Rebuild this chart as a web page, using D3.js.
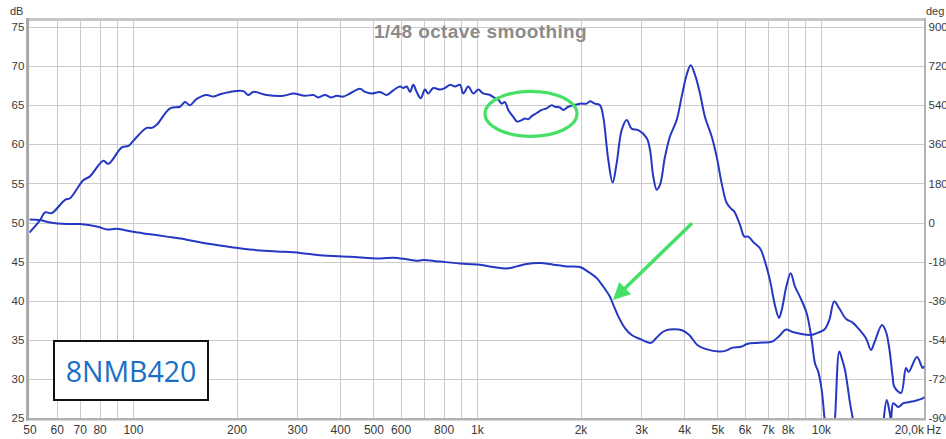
<!DOCTYPE html>
<html>
<head>
<meta charset="utf-8">
<script src="https://cdn.jsdelivr.net/npm/d3@7"></script>
<style>
  html, body { margin: 0; padding: 0; background: #fff; overflow: hidden; }
  svg { display: block; font-family: "Liberation Sans", Arial, sans-serif; }
</style>
</head>
<body>
<svg id="chart" width="946" height="439"></svg>
<script>
// ---- Frequency response (SPL, dB) ----
const magFreq = [50, 53.7, 55.5, 58.0, 63.5, 65.6, 71.7, 75.0, 82.0, 84.8, 92.8, 97.0, 100,
  109.6, 113.4, 117.2, 128.2, 137.0, 141.7, 146.5, 153.2, 163.8, 171.2, 179.1, 191.5, 209.3,
  216.4, 223.8, 244.7, 273.6, 292.6, 316.3, 334.4, 345.8, 361.7, 376, 391.2, 408.8, 427.6,
  457.2, 472.7, 494.4, 522.6, 546.5, 571.3, 597.5, 610.8, 624.9, 638.8, 653.1, 668.1, 686.3,
  706.3, 722.0, 746.6, 780.8, 807.4, 834.9, 863.3, 892.7, 912.6, 943.7, 975.8, 1009, 1043,
  1091, 1128, 1154, 1180, 1206, 1233, 1275, 1310, 1349, 1379, 1410, 1442, 1492, 1542, 1595,
  1649, 1686, 1743, 1782, 1843, 1906, 1993, 2084, 2131, 2203, 2278, 2329, 2409, 2480, 2548,
  2634, 2724, 2817, 2944, 3115, 3184, 3255, 3330, 3405, 3520, 3640, 3807, 3937, 4071, 4181,
  4303, 4450, 4601, 4813, 4977, 5146, 5321, 5502, 5599, 5817, 5987, 6149, 6358, 6650, 6876,
  7110, 7352, 7551, 7689, 7950, 8166, 8404, 8690, 9089, 9399, 9608, 9823, 10050, 10270,
  10550, 10840, 10990, 11310, 11520, 11750, 12150, 12420, 12810, 14850, 15150, 15530, 15800,
  15980, 16230, 16780, 17360, 18400, 19770, 20000];
const magDb = [48.7, 50.3, 51.3, 51.2, 52.9, 53.1, 55.4, 55.9, 57.9, 57.5, 59.6, 59.8, 60.4,
  62.1, 62.1, 62.5, 64.6, 64.8, 65.4, 65.0, 65.8, 66.3, 66.1, 66.4, 66.7, 66.8,
  66.3, 66.7, 66.3, 66.2, 66.5, 66.2, 66.3, 66.0, 66.3, 66.0, 66.2, 66.1, 66.5,
  67.1, 66.7, 66.5, 66.7, 66.3, 66.9, 67.4, 67.2, 67.4, 66.7, 67.6, 66.7, 65.9,
  67.0, 66.5, 67.2, 67.0, 67.2, 67.6, 67.4, 67.6, 66.5, 67.4, 66.5, 67.0, 66.5,
  66.3, 65.9, 65.7, 65.2, 65.4, 64.4, 63.5, 62.9, 63.1, 63.3, 63.2, 63.6, 64.0, 64.4, 64.6,
  65.0, 64.8, 64.7, 64.4, 64.8, 65.0, 65.2, 65.2, 65.5, 65.2, 65.0, 63.5, 58.0, 55.1, 57.6,
  61.8, 63.1, 62.0, 61.8, 60.8, 59.3, 55.9, 54.2, 54.8, 58.4, 61.0, 63.1, 66.1, 68.9, 70.1,
  68.9, 66.5, 63.5, 61.0, 58.4, 55.0, 52.5, 51.7, 51.4, 49.7, 48.2, 48.2, 47.5, 46.7, 45.0,
  42.6, 39.4, 37.8, 38.8, 42.0, 43.5, 41.8, 40.5, 38.4, 35.0, 32.0, 30.9, 28.6, 24.5,
  21.0, 22.0, 25.0, 33.5, 32.5, 31.1, 26.9, 24.5, 20.0, 20.0, 24.0, 27.3, 26.0,
  24.8, 26.9, 26.4, 26.9, 27.1, 27.5, 27.7];

// ---- Phase (degrees, right axis) ----
const phaseFreq = [50, 53.7, 57.4, 64.2, 70.2, 78.5, 83.9, 89.7, 100, 112.1, 125.3, 143.3,
  163.8, 195.7, 223.8, 261.8, 305.9, 349.8, 427.6, 522.6, 571.3, 624.9, 668.1, 698.2, 780.8,
  873.2, 933.6, 1020, 1116, 1220, 1305, 1395, 1525, 1667, 1823, 1993, 2107, 2229, 2329, 2436,
  2490, 2575, 2693, 2817, 2978, 3206, 3315, 3467, 3623, 3963, 4142, 4382, 4632, 5064, 5296,
  5539, 5855, 6124, 6618, 7240, 7566, 7914, 8277, 8650, 9354, 9784, 10230, 10570, 10930,
  11310, 11820, 12370, 12930, 13520, 13980, 14290, 15050, 15460, 15800, 16160, 16340, 17090,
  17670, 17990, 19020, 19770, 20000];
const phaseDeg = [14, 11, 0, -7, -7, -18, -32, -29, -43, -54, -65, -79,
  -97, -115, -126, -133, -140, -151, -158, -166, -162, -169, -176, -173, -180,
  -187, -191, -194, -205, -212, -202, -191, -187, -194, -202, -205, -227, -256, -295, -342,
  -378, -432, -486, -518, -536, -554, -533, -504, -493, -497, -518, -565, -583, -594, -590,
  -576, -572, -558, -554, -547, -522, -493, -504, -511, -518, -508, -493, -450, -364,
  -396, -443, -461, -493, -533, -587, -554, -472, -504, -580, -709, -756, -785,
  -670, -688, -619, -670, -660];

// ---- Axes ----
const dbTicks = [25, 30, 35, 40, 45, 50, 55, 60, 65, 70, 75];
const degTicks = [-900, -720, -540, -360, -180, 0, 180, 360, 540, 720, 900];
const gridFreqs = [60, 70, 80, 90, 100, 200, 300, 400, 500, 600, 700, 800, 900,
  1000, 2000, 3000, 4000, 5000, 6000, 7000, 8000, 9000, 10000];
const labelFreqs = [50, 60, 70, 80, 100, 200, 300, 400, 500, 600, 800,
  1000, 2000, 3000, 4000, 5000, 6000, 7000, 8000, 10000, 20000];
const freqLabels = ["50", "60", "70", "80", "100", "200", "300", "400", "500", "600", "800",
  "1k", "2k", "3k", "4k", "5k", "6k", "7k", "8k", "10k", "20,0k"];

const titleText = "1/48 octave smoothing";
const modelName = "8NMB420";

// Callouts, positioned in data units: ringed dip and arrow onto the phase drop
const ringCenter = { f: 1436, db: 63.9 };
const arrowFrom = { f: 4218, db: 49.9 };
const arrowTo = { f: 2485, db: 40.1 };

// ---- Drawing ----
const svg = d3.select("#chart");
const plotL = 29.4, plotR = 924.5, plotT = 19.5, plotB = 418;

const x = d3.scaleLog().domain([50, 20000]).range([plotL, plotR]);
const y = d3.scaleLinear().domain([25, 75]).range([plotB, 27]);
const yDeg = d3.scaleLinear().domain([-900, 900]).range([plotB, 27]);

const gridColor = "#cbcbcb";
const frameColor = "#b2b2b2";
const curveColor = "#2538c2";
const labelColor = "#3a3a3a";
const green = "#46e066";

// grid
const grid = svg.append("g").attr("shape-rendering", "crispEdges");
grid.selectAll("line.v").data(gridFreqs).join("line")
  .attr("x1", d => Math.round(x(d)) + 0.5).attr("x2", d => Math.round(x(d)) + 0.5)
  .attr("y1", plotT).attr("y2", plotB)
  .attr("stroke", gridColor).attr("stroke-width", 1);
grid.selectAll("line.h").data(dbTicks.slice(1)).join("line")
  .attr("x1", plotL).attr("x2", plotR)
  .attr("y1", d => Math.round(y(d)) + 0.5).attr("y2", d => Math.round(y(d)) + 0.5)
  .attr("stroke", gridColor).attr("stroke-width", 1);

// frame
const frame = svg.append("g");
frame.append("line").attr("x1", 26).attr("x2", plotR + 1).attr("y1", plotT).attr("y2", plotT)
  .attr("stroke", "#c6c6c6").attr("stroke-width", 3);
frame.append("line").attr("x1", 26).attr("x2", plotR + 1).attr("y1", plotB + 1.2).attr("y2", plotB + 1.2)
  .attr("stroke", frameColor).attr("stroke-width", 2.5);
frame.append("line").attr("x1", 27.6).attr("x2", 27.6).attr("y1", plotT - 1.5).attr("y2", plotB + 2.5)
  .attr("stroke", "#a8a8a8").attr("stroke-width", 3);
frame.append("line").attr("x1", plotR + 0.5).attr("x2", plotR + 0.5).attr("y1", plotT - 1.5).attr("y2", plotB + 2.5)
  .attr("stroke", frameColor).attr("stroke-width", 2);

// curves
svg.append("clipPath").attr("id", "plotClip").append("rect")
  .attr("x", plotL).attr("y", plotT + 1).attr("width", plotR - plotL).attr("height", plotB - plotT - 1);

const curves = svg.append("g").attr("clip-path", "url(#plotClip)");
const magLine = d3.line()
  .x((d, i) => x(magFreq[i])).y(d => y(d))
  .curve(d3.curveCatmullRom.alpha(0.5));
const phaseLine = d3.line()
  .x((d, i) => x(phaseFreq[i])).y(d => yDeg(d))
  .curve(d3.curveCatmullRom.alpha(0.5));

curves.append("path").datum(phaseDeg).attr("d", phaseLine)
  .attr("fill", "none").attr("stroke", curveColor).attr("stroke-width", 2)
  .attr("stroke-linejoin", "round");
curves.append("path").datum(magDb).attr("d", magLine)
  .attr("fill", "none").attr("stroke", curveColor).attr("stroke-width", 2)
  .attr("stroke-linejoin", "round");

// left axis (dB)
const axisFont = 11.5;
const yAxis = svg.append("g").attr("transform", `translate(${plotL},0)`)
  .call(d3.axisLeft(y).tickValues(dbTicks).tickSize(0).tickPadding(5).tickFormat(d => String(d)));
yAxis.select(".domain").remove();
yAxis.selectAll("text").attr("fill", labelColor).style("font-size", axisFont + "px")
  .style("font-family", "'Liberation Sans', Arial, sans-serif");

// right axis (deg)
const rAxis = svg.append("g").attr("transform", `translate(${plotR},0)`)
  .call(d3.axisRight(yDeg).tickValues(degTicks).tickSize(0).tickPadding(4).tickFormat(d => String(d)));
rAxis.select(".domain").remove();
rAxis.selectAll("text").attr("fill", labelColor).style("font-size", axisFont + "px")
  .style("font-family", "'Liberation Sans', Arial, sans-serif");

// bottom axis (Hz)
const xAxis = svg.append("g").attr("transform", `translate(0,${plotB})`)
  .call(d3.axisBottom(x).tickValues(labelFreqs).tickSize(0).tickPadding(7)
    .tickFormat((d, i) => freqLabels[i]));
xAxis.select(".domain").remove();
xAxis.selectAll("text").attr("fill", labelColor).style("font-size", "12px")
  .style("font-family", "'Liberation Sans', Arial, sans-serif");
xAxis.selectAll(".tick").filter(d => d === 20000).select("text")
  .attr("text-anchor", "end").attr("x", -1);
svg.append("text").attr("x", plotR + 2).attr("y", 434)
  .attr("fill", labelColor).style("font-size", "12px").text("Hz");

// unit captions
svg.append("text").attr("x", 10).attr("y", 15).attr("fill", labelColor)
  .style("font-size", "11px").text("dB");
svg.append("text").attr("x", 926).attr("y", 15).attr("fill", labelColor)
  .style("font-size", "11px").text("deg");

// title
svg.append("text").attr("x", 480.5).attr("y", 37.5).attr("text-anchor", "middle")
  .attr("fill", "#8b8b8b").style("font-size", "19px").style("font-weight", "bold")
  .style("letter-spacing", "0.4px").text(titleText);

// model label
const tag = svg.append("g");
tag.append("rect").attr("x", 54).attr("y", 341).attr("width", 154).attr("height", 59)
  .attr("fill", "#fff").attr("stroke", "#111").attr("stroke-width", 2);
tag.append("text").attr("x", 131).attr("y", 382).attr("text-anchor", "middle")
  .attr("fill", "#1a6fc4").style("font-family", "'Open Sans', 'Noto Sans', sans-serif")
  .style("font-size", "28.5px").text(modelName);

// callouts
svg.append("ellipse")
  .attr("cx", x(ringCenter.f)).attr("cy", y(ringCenter.db))
  .attr("rx", 46).attr("ry", 22.5)
  .attr("fill", "none").attr("stroke", green).attr("stroke-width", 3.2);

const ax0 = x(arrowFrom.f), ay0 = y(arrowFrom.db);
const ax1 = x(arrowTo.f), ay1 = y(arrowTo.db);
const len = Math.hypot(ax1 - ax0, ay1 - ay0);
const ux = (ax1 - ax0) / len, uy = (ay1 - ay0) / len;
const headLen = 17, headHalf = 8.5;
const bx = ax1 - ux * headLen, by = ay1 - uy * headLen;
svg.append("line").attr("x1", ax0).attr("y1", ay0).attr("x2", bx + ux * 2).attr("y2", by + uy * 2)
  .attr("stroke", green).attr("stroke-width", 3.5);
svg.append("polygon")
  .attr("points", [[ax1, ay1], [bx - uy * headHalf, by + ux * headHalf], [bx + uy * headHalf, by - ux * headHalf]]
    .map(p => p.join(",")).join(" "))
  .attr("fill", green);
</script>
</body>
</html>
